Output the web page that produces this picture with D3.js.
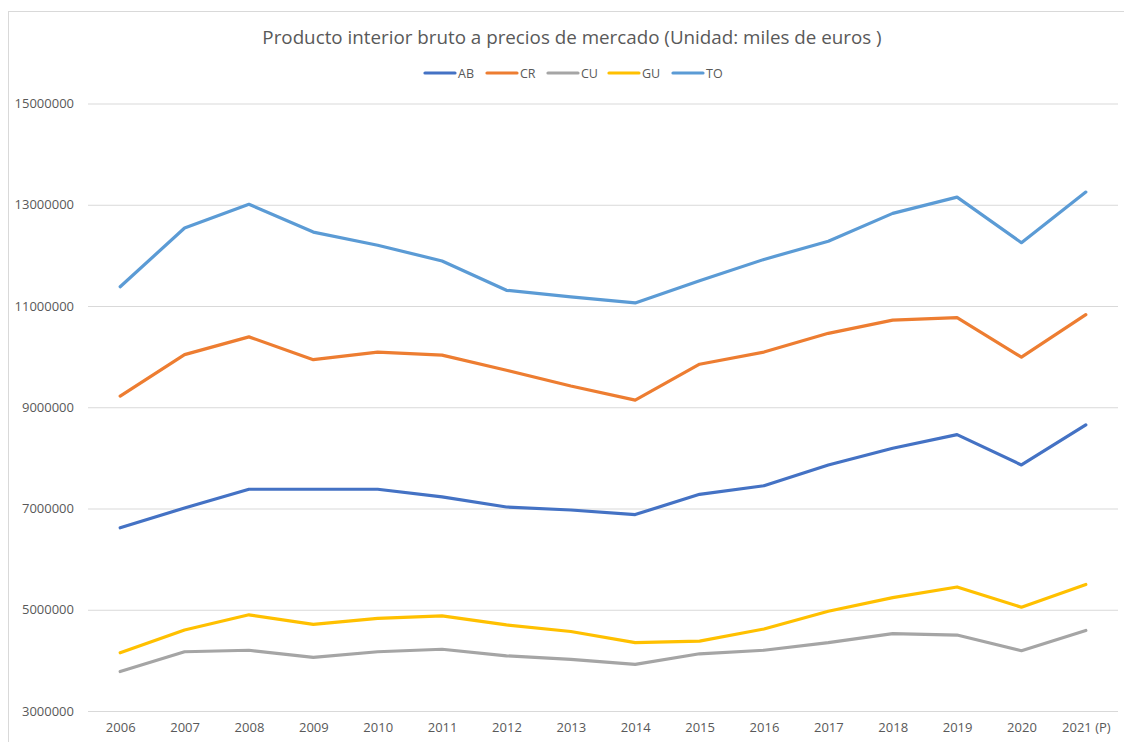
<!DOCTYPE html>
<html>
<head>
<meta charset="utf-8">
<script src="https://cdn.jsdelivr.net/npm/d3@7"></script>
<style>
  html, body { margin: 0; padding: 0; background: #fff; }
  svg { display: block; font-family: "Open Sans", "Noto Sans", sans-serif; }
</style>
</head>
<body>
<svg id="chart" width="1124" height="742"></svg>
<script>
const title = "Producto interior bruto a precios de mercado (Unidad: miles de euros )";
const categories = ["2006","2007","2008","2009","2010","2011","2012","2013","2014","2015","2016","2017","2018","2019","2020","2021 (P)"];
const seriesNames = ["AB","CR","CU","GU","TO"];
const seriesColors = ["#4472C4","#ED7D31","#A5A5A5","#FFC000","#5B9BD5"];
const AB = [6620000,7010000,7380000,7380000,7380000,7230000,7030000,6970000,6880000,7280000,7450000,7860000,8190000,8460000,7860000,8650000];
const CR = [9220000,10040000,10390000,9940000,10090000,10030000,9730000,9420000,9140000,9850000,10090000,10460000,10720000,10770000,9990000,10830000];
const CU = [3780000,4170000,4200000,4060000,4170000,4220000,4090000,4020000,3920000,4130000,4200000,4350000,4530000,4500000,4190000,4590000];
const GU = [4150000,4600000,4900000,4710000,4830000,4880000,4700000,4570000,4350000,4380000,4620000,4970000,5240000,5450000,5050000,5500000];
const TO = [11380000,12540000,13010000,12460000,12200000,11890000,11310000,11180000,11060000,11500000,11920000,12280000,12830000,13150000,12250000,13250000];
const yTicks = [3000000,5000000,7000000,9000000,11000000,13000000,15000000];
const seriesData = [AB, CR, CU, GU, TO];

const svg = d3.select("#chart");
const W = 1124, H = 742;
const plot = { left: 88, right: 1118, top: 103.5, bottom: 711 };

// outer border
svg.append("rect")
  .attr("x", 8.5).attr("y", 11.5)
  .attr("width", W + 20).attr("height", H + 20)
  .attr("fill", "#fff").attr("stroke", "#D9D9D9").attr("stroke-width", 1);

const x = d3.scalePoint().domain(categories).range([plot.left, plot.right]).padding(0.5);
const y = d3.scaleLinear().domain([3000000, 15000000]).range([plot.bottom, plot.top]);

// gridlines
const yAxis = d3.axisLeft(y).tickValues(yTicks).tickSize(-(plot.right - plot.left)).tickPadding(14).tickFormat(d3.format("d"));
const gy = svg.append("g").attr("transform", `translate(${plot.left},0)`).call(yAxis);
gy.select(".domain").remove();
gy.selectAll(".tick line").attr("stroke", "#D9D9D9").attr("stroke-width", 1.2);
gy.selectAll(".tick text").attr("fill", "#595959").style("font-size", "13px").attr("font-family", "'Open Sans', sans-serif");

const xAxis = d3.axisBottom(x).tickSize(0).tickPadding(12);
const gx = svg.append("g").attr("transform", `translate(0,${plot.bottom})`).call(xAxis);
gx.select(".domain").remove();
gx.selectAll(".tick text").attr("fill", "#595959").style("font-size", "13px").attr("font-family", "'Open Sans', sans-serif");

// lines
const line = d3.line().x((d, i) => x(categories[i])).y(d => y(d));
seriesData.forEach((vals, k) => {
  svg.append("path")
    .datum(vals)
    .attr("d", line)
    .attr("fill", "none")
    .attr("stroke", seriesColors[k])
    .attr("stroke-width", 3.2)
    .attr("stroke-linejoin", "round")
    .attr("stroke-linecap", "round");
});

// title
svg.append("text")
  .attr("x", 572).attr("y", 44)
  .attr("text-anchor", "middle")
  .attr("fill", "#595959")
  .style("font-size", "18.8px")
  .text(title);

// legend
const legendX = [425, 487, 548, 609, 673];
seriesNames.forEach((name, k) => {
  const g = svg.append("g").attr("transform", `translate(${legendX[k]},73)`);
  g.append("line").attr("x1", 0).attr("x2", 30).attr("y1", 0).attr("y2", 0)
    .attr("stroke", seriesColors[k]).attr("stroke-width", 3.2).attr("stroke-linecap", "round");
  g.append("text").attr("x", 33).attr("y", 4.5).attr("fill", "#595959")
    .style("font-size", "12.5px").text(name);
});
</script>
</body>
</html>
